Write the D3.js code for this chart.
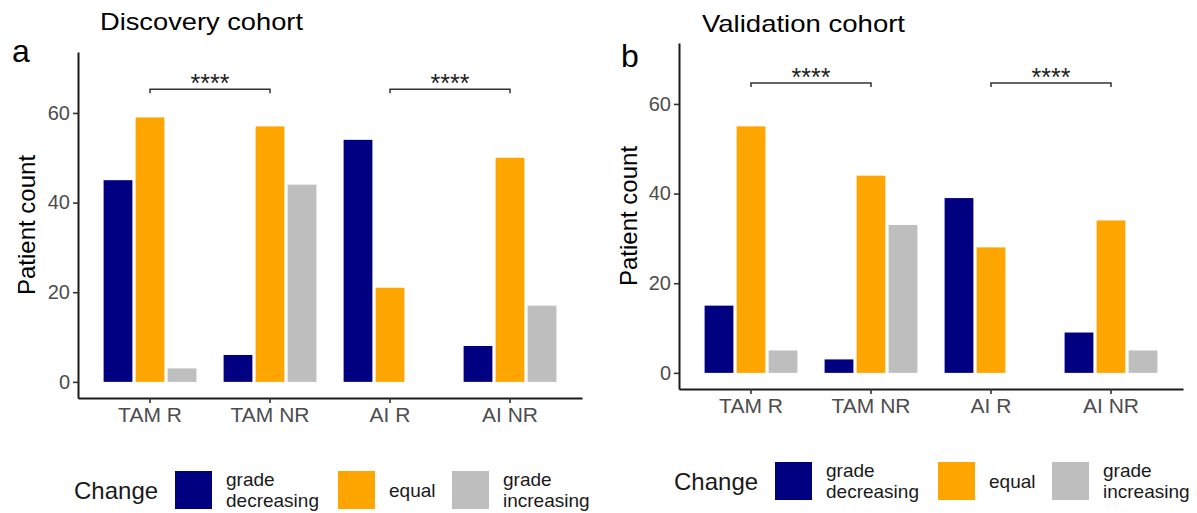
<!DOCTYPE html>
<html>
<head>
<meta charset="utf-8">
<script src="https://cdn.jsdelivr.net/npm/d3@7"></script>
<style>
  body { margin: 0; background: #fff; }
  text { font-family: "Liberation Sans", Arial, sans-serif; }
</style>
</head>
<body>
<div id="chart"></div>
<script>
var categories = ["TAM R", "TAM NR", "AI R", "AI NR"];
var changes = ["grade decreasing", "equal", "grade increasing"];
var changeColors = ["#000080", "#FFA500", "#BEBEBE"];
var yTicks = [0, 20, 40, 60];

// discovery cohort counts
var discDecreasing = [45, 6, 54, 8];
var discEqual = [59, 57, 21, 50];
var discIncreasing = [3, 44, 0, 17];

// validation cohort counts
var valDecreasing = [15, 3, 39, 9];
var valEqual = [55, 44, 28, 34];
var valIncreasing = [5, 33, 0, 5];

var sigPairs = [["TAM R", "TAM NR"], ["AI R", "AI NR"]];
var sigLabel = "****";

function init(){
	var w = 1197;
	var h = 513;

	var svg = d3.select("#chart")
				.append("svg")
				.attr("width", w)
				.attr("height", h);

	var panels = [
		{title: "Discovery cohort", letter: "a", series: [discDecreasing, discEqual, discIncreasing],
		 left: 78, right: 582, top: 52, bottom: 398, sigY: 65.3,
		 titleX: 100, titleY: 30, letterX: 12, letterY: 62, ylabX: 35, ylabY: 225, legX: 74, legY: 471},
		{title: "Validation cohort", letter: "b", series: [valDecreasing, valEqual, valIncreasing],
		 left: 679, right: 1183, top: 43, bottom: 389, sigY: 64.7,
		 titleX: 702, titleY: 32, letterX: 621, letterY: 67, ylabX: 637, ylabY: 216, legX: 674, legY: 462}
	];

	panels.forEach(function(p){
		var g = svg.append("g");

		var xScale = d3.scaleBand()
						.domain(categories)
						.range([p.left, p.right])
						.paddingInner(0.2)
						.paddingOuter(0.2);

		var xInner = d3.scaleBand()
						.domain(d3.range(changes.length))
						.range([0, xScale.bandwidth()])
						.paddingInner(0.1)
						.paddingOuter(0.05);

		var yScale = d3.scaleLinear()
						.domain([-3.6, 73.6])
						.range([p.bottom, p.top]);

		// bars
		p.series.forEach(function(vals, s){
			g.selectAll("rect.s" + s)
				.data(vals)
				.enter()
				.append("rect")
				.attr("class", "s" + s)
				.attr("x", function(d, i){
					return xScale(categories[i]) + xInner(s);
				})
				.attr("y", function(d){ return yScale(d); })
				.attr("width", xInner.bandwidth())
				.attr("height", function(d){ return yScale(0) - yScale(d); })
				.attr("fill", changeColors[s]);
		});

		// axes
		var yAxis = d3.axisLeft(yScale)
						.tickValues(yTicks)
						.tickSize(5)
						.tickSizeOuter(0)
						.tickPadding(3);
		var xAxis = d3.axisBottom(xScale)
						.tickSize(5)
						.tickSizeOuter(0)
						.tickPadding(4);

		var ya = g.append("g")
			.attr("transform", "translate(" + p.left + ",0)")
			.call(yAxis);
		var xa = g.append("g")
			.attr("transform", "translate(0," + p.bottom + ")")
			.call(xAxis);

		[ya, xa].forEach(function(a){
			a.select(".domain").attr("stroke", "#1a1a1a").attr("stroke-width", 2);
			a.selectAll(".tick line").attr("stroke", "#333").attr("stroke-width", 1.6);
			a.selectAll(".tick text")
				.attr("fill", "#4D4D4D")
				.attr("font-size", 20)
				.style("font-family", "Liberation Sans, Arial, sans-serif");
		});
		xa.selectAll(".tick text").attr("font-size", 21);

		// significance brackets
		sigPairs.forEach(function(pair){
			var x1 = xScale(pair[0]) + xScale.bandwidth() / 2;
			var x2 = xScale(pair[1]) + xScale.bandwidth() / 2;
			var yb = yScale(p.sigY);
			var yt = yScale(p.sigY - 0.9);
			g.append("path")
				.attr("d", "M" + x1 + "," + yt + "V" + yb + "H" + x2 + "V" + yt)
				.attr("fill", "none")
				.attr("stroke", "#333")
				.attr("stroke-width", 1.5);
			g.append("text")
				.attr("x", (x1 + x2) / 2)
				.attr("y", yb + 3)
				.attr("text-anchor", "middle")
				.attr("font-size", 25)
				.attr("fill", "#222")
				.text(sigLabel);
		});

		// titles
		g.append("text")
			.attr("x", p.titleX)
			.attr("y", p.titleY)
			.attr("font-size", 24)
			.attr("textLength", 203)
			.attr("lengthAdjust", "spacingAndGlyphs")
			.attr("fill", "#000")
			.text(p.title);

		g.append("text")
			.attr("x", p.letterX)
			.attr("y", p.letterY)
			.attr("font-size", 32)
			.attr("fill", "#000")
			.text(p.letter);

		g.append("text")
			.attr("transform", "translate(" + p.ylabX + "," + p.ylabY + ") rotate(-90)")
			.attr("text-anchor", "middle")
			.attr("font-size", 24)
			.attr("fill", "#000")
			.text("Patient count");

		// legend
		var leg = g.append("g").attr("transform", "translate(" + p.legX + "," + p.legY + ")");
		leg.append("text")
			.attr("x", 0)
			.attr("y", 28)
			.attr("font-size", 24)
			.attr("fill", "#1a1a1a")
			.text("Change");

		var keyX = [101, 264, 378];
		var labX = [152, 315, 429];
		changes.forEach(function(c, i){
			leg.append("rect")
				.attr("x", keyX[i])
				.attr("y", 0)
				.attr("width", 37)
				.attr("height", 38)
				.attr("fill", changeColors[i]);
			var words = c.split(" ");
			if (words.length == 1) {
				leg.append("text")
					.attr("font-size", 19)
					.attr("fill", "#1a1a1a")
					.attr("x", labX[i]).attr("y", 26).text(c);
			} else {
				words.forEach(function(wd, k){
					leg.append("text")
						.attr("font-size", 19)
						.attr("fill", "#1a1a1a")
						.attr("x", labX[i])
						.attr("y", 15 + k * 21)
						.text(wd);
				});
			}
		});
	});
}

window.onload = init;
</script>
</body>
</html>
